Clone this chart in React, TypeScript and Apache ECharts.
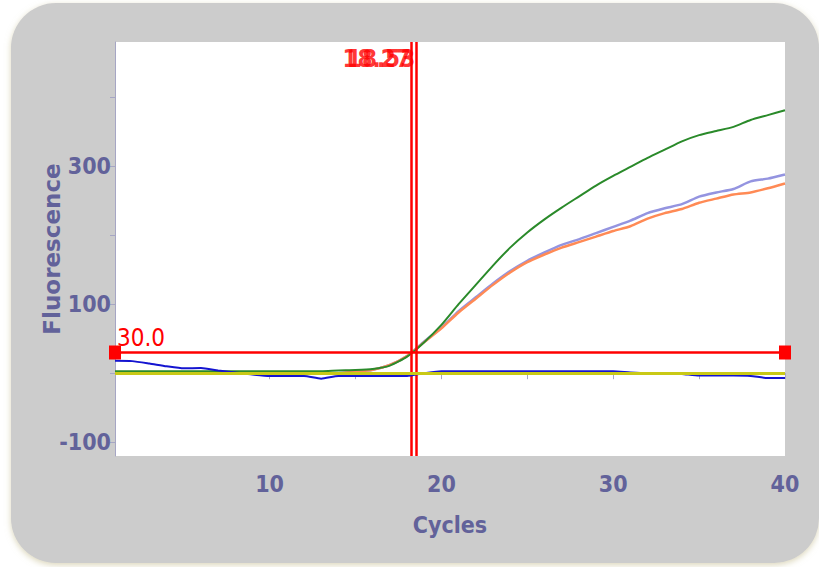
import React, { useEffect, useRef } from "react";
import * as echarts from "echarts";

const cycles = Array.from({ length: 40 }, (_, i) => i + 1);

const greenValues = [3, 3, 3, 3, 3, 3, 3, 3, 3, 3, 3, 3, 3, 4, 4.5, 6, 11, 24, 45, 70, 100, 128, 156, 182, 204, 223, 240, 256, 272, 286, 299, 312, 324, 336, 345, 351, 357, 367, 374, 381];
const purpleValues = [-0.5, -0.5, -0.5, -0.5, -0.5, -0.5, -0.5, -0.5, -0.5, -0.5, -0.5, -0.5, -0.5, 0, 2, 5, 12, 25, 46, 66, 90, 110, 130, 148, 163, 175, 186, 194, 203, 212, 221, 232, 239, 245, 256, 262, 267, 278, 282, 288];
const orangeValues = [-0.5, -0.5, -0.5, -0.5, -0.5, -0.5, -0.5, -0.5, -0.5, -0.5, -0.5, -0.5, -0.5, 0, 2, 5, 12, 25, 45, 65, 88, 108, 128, 146, 161, 172, 182, 190, 198, 206, 213, 224, 232, 238, 247, 253, 259, 262, 268, 275];
const blueValues = [18, 17.5, 14, 10, 7, 7.5, 4, 1, -2, -4, -4, -4, -8, -4, -4, -4, -4, -4, 0, 3, 3, 3, 3, 3, 3, 3, 3, 3, 3, 3, 1, 0, 0, -1, -3.5, -3.5, -3.5, -4, -7, -7];
const yellowValues = [-0.5, -0.5, -0.5, -0.5, -0.5, -0.5, -0.5, -0.5, -0.5, -0.5, -0.5, -0.5, -0.5, -0.5, -0.5, -0.5, -0.5, -0.5, -0.5, -0.5, -0.5, -0.5, -0.5, -0.5, -0.5, -0.5, -0.5, -0.5, -0.5, -0.5, -0.5, -0.5, -0.5, -0.5, -0.5, -0.5, -0.5, -0.5, -0.5, -0.5];

const ctValues = [18.27, 18.53];
const ctLabelLevel = 455;
const thresholdValue = 30;

const xTickValues = [10, 15, 20, 25, 30, 35, 40];
const xLabelValues = [10, 20, 30, 40];
const yTickValues = [-100, 0, 100, 200, 300, 400];
const yLabelValues = [-100, 100, 300];

const NARROW = "'Liberation Sans Narrow', 'DejaVu Sans Condensed', 'Arial Narrow', sans-serif";
const AXIS_TEXT = "#62629a";
const AXIS_LINE = "#a6a6c4";
const RED = "#ff0000";

const pair = (vals: number[]) => cycles.map((c, i) => [c, vals[i]]);

export default function App() {
  const ref = useRef<HTMLDivElement>(null);
  useEffect(() => {
    if (!ref.current) return;
    const chart = echarts.init(ref.current, undefined, { renderer: "svg" });
    const curve = (name: string, vals: number[], color: string, width: number, z: number) => ({
      name,
      type: "line",
      data: pair(vals),
      symbol: "none",
      smooth: 0.2,
      z,
      lineStyle: { color, width },
      itemStyle: { color },
    });
    chart.setOption({
      animation: false,
      backgroundColor: "transparent",
      graphic: [
        {
          type: "rect",
          z: -100,
          shape: { x: 11, y: 3, width: 808, height: 560, r: 45 },
          style: {
            fill: "#cccccc",
            shadowBlur: 6,
            shadowOffsetY: 2,
            shadowColor: "rgba(190,180,130,0.55)",
          },
        },
      ],
      grid: {
        left: 115,
        right: 34,
        top: 42,
        bottom: 111,
        show: true,
        backgroundColor: "#ffffff",
        borderWidth: 0,
      },
      xAxis: {
        type: "value",
        min: 1,
        max: 40,
        splitLine: { show: false },
        axisLine: { show: true, lineStyle: { color: AXIS_LINE, width: 1 } },
        axisTick: { show: true, customValues: xTickValues, length: 6, lineStyle: { color: AXIS_LINE } },
        axisLabel: {
          customValues: xLabelValues,
          margin: 16,
          fontSize: 23,
          fontWeight: "bold",
          fontFamily: NARROW,
          color: AXIS_TEXT,
        },
        name: "Cycles",
        nameLocation: "middle",
        nameGap: 57,
        nameTextStyle: { fontSize: 23, fontWeight: "bold", fontFamily: NARROW, color: AXIS_TEXT },
      },
      yAxis: {
        type: "value",
        min: -120,
        max: 480,
        splitLine: { show: false },
        axisLine: { show: true, lineStyle: { color: AXIS_LINE, width: 1 } },
        axisTick: { show: true, customValues: yTickValues, length: 5, lineStyle: { color: AXIS_LINE } },
        axisLabel: {
          customValues: yLabelValues,
          margin: 4,
          fontSize: 23,
          fontWeight: "bold",
          fontFamily: NARROW,
          color: AXIS_TEXT,
        },
        name: "Fluorescence",
        nameLocation: "middle",
        nameRotate: 90,
        nameGap: 52,
        nameMoveOverlap: false,
        nameTextStyle: { fontSize: 23, fontWeight: "bold", fontFamily: "'DejaVu Sans', Verdana, sans-serif", color: AXIS_TEXT },
      },
      series: [
        curve("Purple", purpleValues, "#9494e0", 2.5, 2),
        curve("Orange", orangeValues, "#ff8a55", 2.5, 3),
        curve("Green", greenValues, "#2a8a2a", 2, 4),
        curve("Blue", blueValues, "#1414d0", 2, 5),
        curve("Yellow", yellowValues, "#c9c916", 3, 6),
        {
          name: "Threshold",
          type: "line",
          z: 8,
          symbol: "rect",
          symbolSize: [12, 14],
          itemStyle: { color: RED },
          lineStyle: { color: RED, width: 2.5 },
          data: [
            {
              value: [cycles[0], thresholdValue],
              label: {
                show: true,
                position: [8, -20],
                formatter: () => thresholdValue.toFixed(1),
                color: RED,
                fontSize: 24,
                fontFamily: NARROW,
              },
            },
            [cycles[cycles.length - 1], thresholdValue],
          ],
        },
        {
          name: "Ct",
          type: "scatter",
          z: 9,
          symbolSize: 0,
          data: ctValues.map((v) => [v, ctLabelLevel]),
          label: {
            show: true,
            position: "left",
            distance: 1,
            formatter: (p: any) => Number(p.value[0]).toFixed(2),
            color: RED,
            fontSize: 24,
            fontWeight: "bold",
            fontFamily: NARROW,
          },
          markLine: {
            silent: true,
            symbol: ["none", "none"],
            label: { show: false },
            lineStyle: { color: RED, width: 2.5, type: "solid" },
            data: ctValues.map((v) => ({ xAxis: v })),
          },
        },
      ],
    });
    return () => chart.dispose();
  }, []);
  return (
    <div
      ref={ref}
      style={{ position: "absolute", left: 0, top: 0, width: 819, height: 567, background: "#ffffff" }}
    />
  );
}
